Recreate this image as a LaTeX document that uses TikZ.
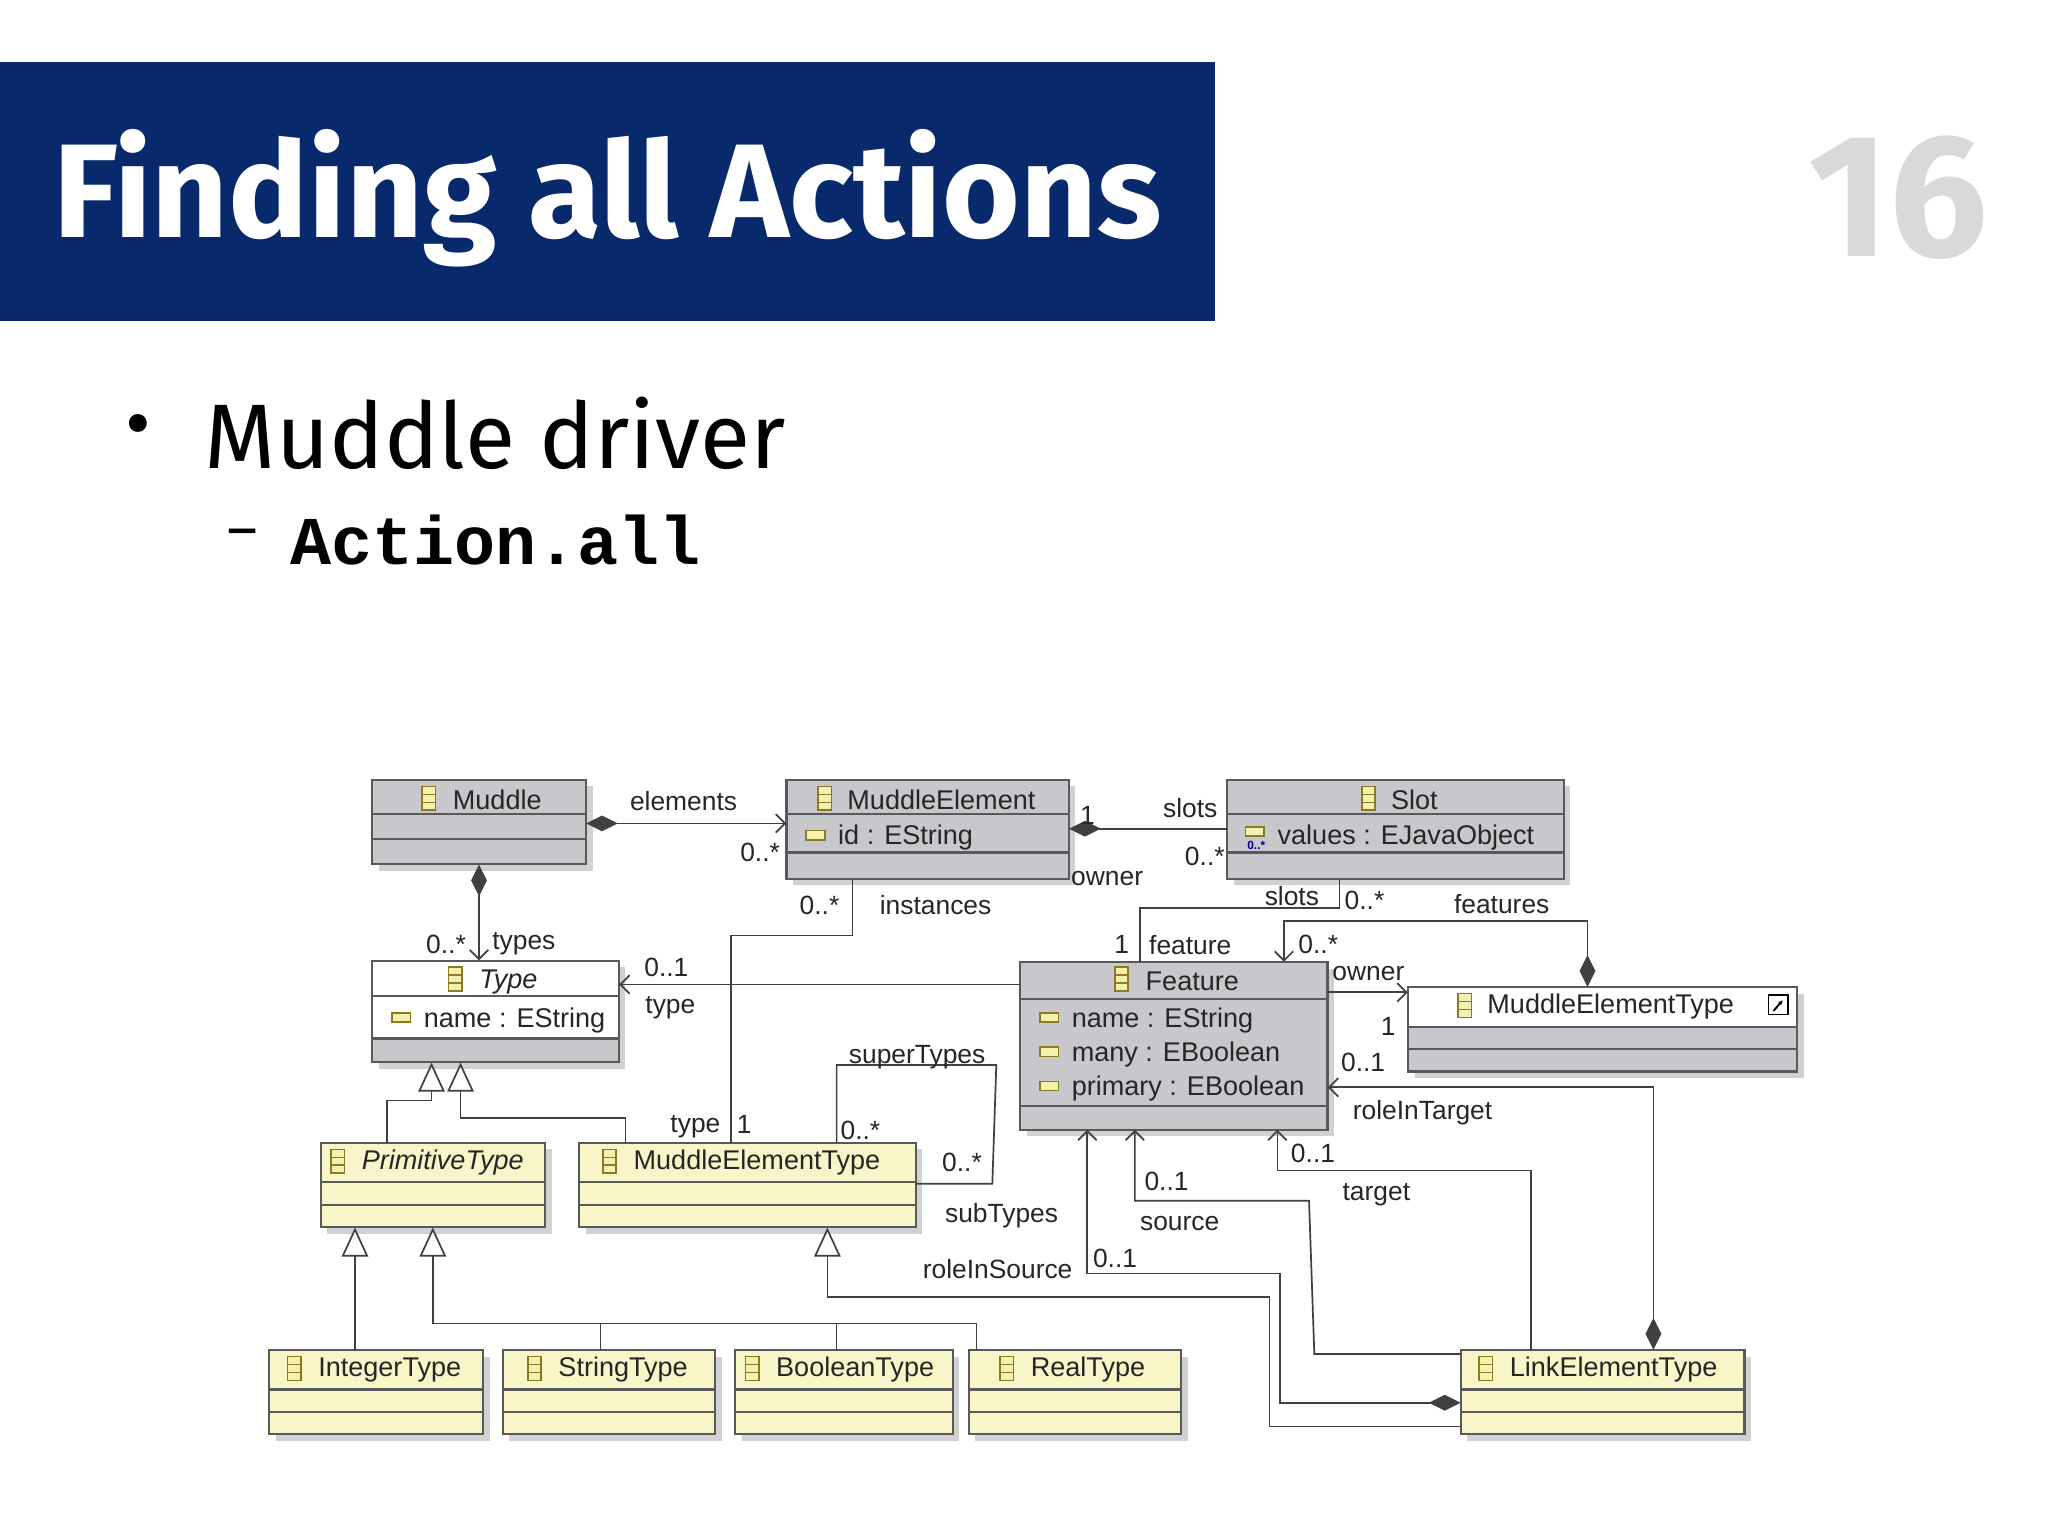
\documentclass[tikz,border=0pt]{standalone}
\usepackage{fontspec}
\setmainfont{Liberation Sans}
\newfontfamily\titlef{Fira Sans}
\newfontfamily\monof{Liberation Mono}
\usetikzlibrary{arrows.meta,fit}
\definecolor{navy}{HTML}{082A6C}
\definecolor{boxg}{HTML}{C8C8CC}
\definecolor{boxy}{HTML}{F8F6C8}
\definecolor{iconf}{HTML}{F4F0B0}
\definecolor{icond}{HTML}{8A7A20}
\definecolor{edge}{HTML}{404040}
\tikzset{
  x=1pt,y=-1pt,
  ln/.style={line width=1.3pt,draw=edge},
  sep/.style={line width=1.6pt,draw=gray!70!black},
  lbl/.style={font=\fontsize{20}{20}\selectfont,text=black!85,inner sep=0},
  ctxt/.style={font=\fontsize{20.5}{20}\selectfont,text=black!85,inner sep=0},
  barb/.tip={Straight Barb[length=7pt,width=14pt,line width=1.3pt]},
  dia/.tip={Diamond[length=24pt,width=12pt,fill=edge]},
  gen/.tip={Triangle[open,length=22pt,width=20pt,fill=white,line width=1.3pt]},
}
% name, x1,y1,x2,y2, fill
\newcommand\cls[6]{%
  \fill[black!18] (#2+5,#3+5) rectangle (#4+5,#5+5);
  \fill[#6] (#2,#3) rectangle (#4,#5);
  \coordinate (#1nw) at (#2,#3); \coordinate (#1se) at (#4,#5);
  \node[fit=(#1nw)(#1se),inner sep=0] (#1) {};
}
\newcommand\frm[4]{\draw[sep] (#1,#2) rectangle (#3,#4);}
\newcommand\hl[3]{\draw[sep] (#1,#3) -- (#2,#3);}
\newcommand\cicon[2]{%
  \draw[icond,fill=iconf,line width=1.2pt] (#1-5,#2-9) rectangle (#1+5,#2+9);
  \draw[icond,line width=1.2pt] (#1-5,#2-3) -- (#1+5,#2-3) (#1-5,#2+3) -- (#1+5,#2+3);}
\newcommand\aicon[2]{%
  \draw[icond,fill=iconf,line width=1.2pt] (#1-7,#2-3.5) rectangle (#1+7,#2+3.5);}
\begin{document}
\begin{tikzpicture}
\useasboundingbox (0,0) rectangle (1552,1164);
\fill[white] (0,0) rectangle (1552,1164);
% title
\fill[navy] (0,47) rectangle (921,243);
\node[anchor=west,inner sep=0,text=white] (title) at (40,150) {\resizebox{840pt}{!}{\titlef\bfseries Finding all Actions}};
\node[anchor=west,inner sep=0,text=black!15] (num) at (1370,150) {\resizebox{136pt}{!}{\titlef\bfseries 16}};
\node[anchor=west,inner sep=0] (bul) at (95,328) {\fontsize{60}{60}\selectfont\titlef •};
\node[anchor=west,inner sep=0] (b1) at (155,328) {\resizebox{440pt}{!}{\titlef Muddle driver}};
\node[anchor=west,inner sep=0] (dash) at (172,409) {\fontsize{44}{44}\selectfont\titlef –};
\node[anchor=west,inner sep=0] (b2) at (220,409) {\resizebox{311pt}{!}{\monof\bfseries Action.all}};

% ---- classes
\cls{mud}{282}{591}{444}{655}{boxg}
\frm{282}{591}{444}{655}\hl{282}{444}{617}\hl{282}{444}{636}
\cicon{325}{605}\node[ctxt,anchor=west] at (343,606) {Muddle};

\cls{me}{596}{591}{810}{666}{boxg}
\frm{596}{591}{810}{666}\hl{596}{810}{617}\hl{596}{810}{646}
\cicon{625}{605}\node[ctxt,anchor=west] at (642,606) {MuddleElement};
\aicon{618}{633}\node[ctxt,anchor=west] at (635,635) {id : EString};

\cls{slot}{930}{591}{1185}{666}{boxg}
\frm{930}{591}{1185}{666}\hl{930}{1185}{617}\hl{930}{1185}{646}
\cicon{1037}{605}\node[ctxt,anchor=west] at (1054,606) {Slot};
\aicon{951}{630}\node[inner sep=0,text=blue!60!black,font=\fontsize{9}{9}\selectfont\bfseries] at (952,641) {0..*};
\node[ctxt,anchor=west] at (968,635) {values : EJavaObject};

\cls{type}{282}{728}{469}{805}{boxg}
\fill[white] (282,728) rectangle (469,787);
\frm{282}{728}{469}{805}\hl{282}{469}{755}\hl{282}{469}{787}
\cicon{345}{742}\node[ctxt,anchor=west] at (363,744) {\itshape Type};
\aicon{304}{771}\node[ctxt,anchor=west] at (321,773) {name : EString};

\cls{feat}{773}{729}{1006}{856}{boxg}
\frm{773}{729}{1006}{856}\hl{773}{1006}{757}\hl{773}{1006}{838}
\cicon{850}{742}\node[ctxt,anchor=west] at (868,744) {Feature};
\aicon{795}{771}\node[ctxt,anchor=west] at (812,773) {name : EString};
\aicon{795}{797}\node[ctxt,anchor=west] at (812,799) {many : EBoolean};
\aicon{795}{823}\node[ctxt,anchor=west] at (812,825) {primary : EBoolean};

\cls{met}{1067}{748}{1362}{812}{boxg}
\fill[white] (1067,748) rectangle (1362,778);
\frm{1067}{748}{1362}{812}\hl{1067}{1362}{778}\hl{1067}{1362}{795}
\cicon{1110}{762}\node[ctxt,anchor=west] at (1127,763) {MuddleElementType};
\draw[black,fill=white,line width=1pt] (1340,754) rectangle (1355,769);
\draw[black,line width=1.5pt,-{Stealth[length=4pt]}] (1344,766) -- (1351,758);

\cls{prim}{243}{866}{413}{930}{boxy}
\frm{243}{866}{413}{930}\hl{243}{413}{896}\hl{243}{413}{913}
\cicon{256}{880}\node[ctxt,anchor=west] at (274,881) {\itshape PrimitiveType};

\cls{mety}{439}{866}{694}{930}{boxy}
\frm{439}{866}{694}{930}\hl{439}{694}{896}\hl{439}{694}{913}
\cicon{462}{880}\node[ctxt,anchor=west] at (480,881) {MuddleElementType};

\cls{int}{204}{1023}{366}{1087}{boxy}
\frm{204}{1023}{366}{1087}\hl{204}{366}{1053}\hl{204}{366}{1070}
\cicon{223}{1037}\node[ctxt,anchor=west] at (241,1038) {IntegerType};
\cls{str}{381}{1023}{542}{1087}{boxy}
\frm{381}{1023}{542}{1087}\hl{381}{542}{1053}\hl{381}{542}{1070}
\cicon{405}{1037}\node[ctxt,anchor=west] at (423,1038) {StringType};
\cls{bool}{557}{1023}{722}{1087}{boxy}
\frm{557}{1023}{722}{1087}\hl{557}{722}{1053}\hl{557}{722}{1070}
\cicon{570}{1037}\node[ctxt,anchor=west] at (588,1038) {BooleanType};
\cls{real}{734}{1023}{895}{1087}{boxy}
\frm{734}{1023}{895}{1087}\hl{734}{895}{1053}\hl{734}{895}{1070}
\cicon{763}{1037}\node[ctxt,anchor=west] at (781,1038) {RealType};
\cls{link}{1107}{1023}{1322}{1087}{boxy}
\frm{1107}{1023}{1322}{1087}\hl{1107}{1322}{1053}\hl{1107}{1322}{1070}
\cicon{1126}{1037}\node[ctxt,anchor=west] at (1144,1038) {LinkElementType};

% ---- connectors
\draw[ln,dia-barb] (mud.east |- 0,624) -- (me.west |- 0,624);
\node[lbl] at (518,607) {elements}; \node[lbl] at (576,646) {0..*};
\draw[ln,dia-barb] (mud.south -| 363,0) -- (type.north -| 363,0);
\node[lbl] at (338,716) {0..*}; \node[lbl] at (397,715) {types};
\draw[ln,-dia] (slot.west |- 0,628) -- (me.east |- 0,628);
\node[lbl] at (824,618) {1}; \node[lbl] at (902,612) {slots};
\node[lbl] at (913,649) {0..*}; \node[lbl] at (839,666) {owner};
\draw[ln] (me.south -| 646,0) -- (646,709) -- (554,709) -- (mety.north -| 554,0);
\node[lbl] at (621,686) {0..*}; \node[lbl] at (709,686) {instances};
\node[lbl] at (527,854) {type}; \node[lbl] at (564,852) {1};
\draw[ln,-barb] (feat.west |- 0,746) -- (type.east |- 0,746);
\node[lbl] at (505,733) {0..1}; \node[lbl] at (508,764) {type};
\draw[ln,-gen] (prim.north -| 293,0) -- (293,834) -- (327,834) -- (type.south -| 327,0);
\draw[ln,-gen] (mety.north -| 474,0) -- (474,847) -- (349,847) -- (type.south -| 349,0);
\draw[ln] (mety.north -| 634,0) -- (634,807) -- (755,807) -- (752,897) -- (mety.east |- 0,897);
\node[lbl] at (695,801) {superTypes}; \node[lbl] at (652,857) {0..*};
\node[lbl] at (729,881) {0..*}; \node[lbl] at (759,921) {subTypes};
\draw[ln] (slot.south -| 1015,0) -- (1015,688) -- (864,688) -- (feat.north -| 864,0);
\node[lbl] at (979,679) {slots}; \node[lbl] at (1034,682) {0..*};
\node[lbl] at (850,716) {1}; \node[lbl] at (902,716) {feature};
\draw[ln,dia-barb] (met.north -| 1203,0) -- (1203,698) -- (973,698) -- (feat.north -| 973,0);
\node[lbl] at (1138,685) {features}; \node[lbl] at (999,716) {0..*};
\draw[ln,-barb] (feat.east |- 0,752) -- (met.west |- 0,752);
\node[lbl] at (1037,738) {owner}; \node[lbl] at (1052,778) {1};
\draw[ln,dia-barb] (link.north -| 1253,0) -- (1253,824) -- (feat.east |- 0,824);
\node[lbl] at (1033,805) {0..1}; \node[lbl] at (1078,843) {roleInTarget};
\draw[ln,-barb] (link.north -| 1160,0) -- (1160,887) -- (968,887) -- (feat.south -| 968,0);
\node[lbl] at (995,874) {0..1}; \node[lbl] at (1043,905) {target};
\draw[ln,-barb] (link.west |- 0,1026) -- (996,1026) -- (992,910) -- (860,910) -- (feat.south -| 860,0);
\node[lbl] at (884,895) {0..1}; \node[lbl] at (894,927) {source};
\draw[ln,dia-barb] (link.west |- 0,1063) -- (970,1063) -- (970,965) -- (824,965) -- (feat.south -| 824,0);
\node[lbl] at (845,954) {0..1}; \node[lbl] at (756,962) {roleInSource};
\draw[ln,-gen] (link.west |- 0,1081) -- (962,1081) -- (962,983) -- (627,983) -- (mety.south -| 627,0);
\draw[ln,-gen] (int.north -| 269,0) -- (prim.south -| 269,0);
\draw[ln,-gen] (str.north -| 455,0) -- (455,1003) -- (328,1003) -- (prim.south -| 328,0);
\draw[ln] (455,1003) -- (740,1003) -- (real.north -| 740,0);
\draw[ln] (bool.north -| 634,0) -- (634,1003);
\end{tikzpicture}
\end{document}
